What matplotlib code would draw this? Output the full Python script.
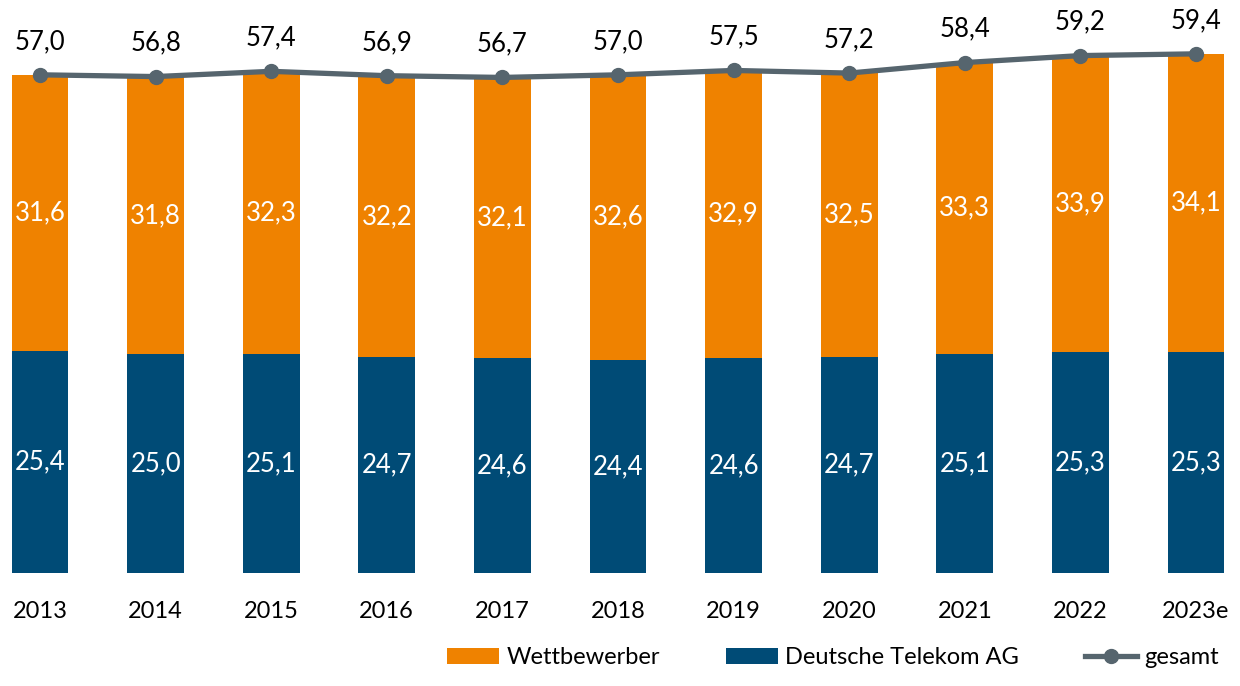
import matplotlib
matplotlib.use("Agg")
import matplotlib.pyplot as plt
import numpy as np

years = ["2013", "2014", "2015", "2016", "2017", "2018", "2019", "2020", "2021", "2022", "2023e"]
telekom = [25.4, 25.0, 25.1, 24.7, 24.6, 24.4, 24.6, 24.7, 25.1, 25.3, 25.3]
wettbewerber = [31.6, 31.8, 32.3, 32.2, 32.1, 32.6, 32.9, 32.5, 33.3, 33.9, 34.1]
gesamt = [57.0, 56.8, 57.4, 56.9, 56.7, 57.0, 57.5, 57.2, 58.4, 59.2, 59.4]

ORANGE = "#EF8200"
NAVY = "#004B76"
GREY = "#56656E"


def fmt(v):
    return f"{v:.1f}".replace(".", ",")


plt.rcParams["font.family"] = ["Lato", "DejaVu Sans"]

fig = plt.figure(figsize=(12.4, 6.86), dpi=100)
ax = fig.add_axes([0, 113 / 686, 1, 573 / 686])

x = np.arange(len(years))
w = 0.49
b_tel = ax.bar(x, telekom, width=w, color=NAVY, label="Deutsche Telekom AG")
b_wet = ax.bar(x, wettbewerber, width=w, bottom=telekom, color=ORANGE, label="Wettbewerber")
ln, = ax.plot(x, gesamt, color=GREY, lw=3.8, marker="o", ms=10, label="gesamt")

for i in range(len(years)):
    ax.text(x[i], telekom[i] / 2, fmt(telekom[i]), ha="center", va="center",
            color="white", fontsize=18.5)
    ax.text(x[i], telekom[i] + wettbewerber[i] / 2, fmt(wettbewerber[i]),
            ha="center", va="center", color="white", fontsize=18.5)
    ax.annotate(fmt(gesamt[i]), (x[i], gesamt[i]), xytext=(0, 15),
                textcoords="offset points", ha="center", va="bottom",
                color="black", fontsize=18.5)

ax.set_xlim(-40 / 115.6, 10 + 44 / 115.6)
ax.set_ylim(0, 573 / 8.74)
ax.set_xticks(x)
ax.set_xticklabels(years, fontsize=17)
ax.tick_params(axis="x", length=0, pad=20)
ax.set_yticks([])
for s in ax.spines.values():
    s.set_visible(False)

fig.legend([b_wet, b_tel, ln], ["Wettbewerber", "Deutsche Telekom AG", "gesamt"],
           loc="lower right", bbox_to_anchor=(1.0, -0.005), ncol=3, frameon=False,
           fontsize=17, handlelength=2.2, handletextpad=0.3, columnspacing=2.8)

fig.savefig("out.png", dpi=100)
